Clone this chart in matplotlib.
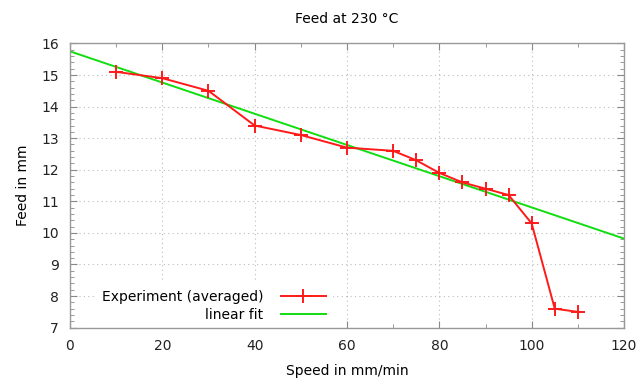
import numpy as np
import matplotlib
matplotlib.use('Agg')
import matplotlib.pyplot as plt
from matplotlib.ticker import MultipleLocator

speed = [10, 20, 30, 40, 50, 60, 70, 75, 80, 85, 90, 95, 100, 105, 110]
feed = [15.1, 14.9, 14.5, 13.4, 13.1, 12.7, 12.6, 12.3, 11.9, 11.6, 11.4, 11.2, 10.3, 7.6, 7.5]

fit_x = [0, 120]
fit_y = [15.75, 9.82]

plt.rcParams['font.family'] = 'DejaVu Sans'
plt.rcParams['font.size'] = 10

fig = plt.figure(figsize=(6.42, 3.81), dpi=100)
ax = fig.add_axes([0.109, 0.140, 0.863, 0.746])

ax.plot(speed, feed, color='#ff1a1a', linewidth=1.4, marker='+',
        markersize=10, markeredgewidth=1.4, label='Experiment (averaged)', zorder=3)
ax.plot(fit_x, fit_y, color='#11dd11', linewidth=1.4, label='linear fit', zorder=2)

ax.set_xlim(0, 120)
ax.set_ylim(7, 16)
ax.xaxis.set_major_locator(MultipleLocator(20))
ax.xaxis.set_minor_locator(MultipleLocator(10))
ax.yaxis.set_major_locator(MultipleLocator(1))
ax.yaxis.set_minor_locator(MultipleLocator(0.2))

ax.grid(True, which='major', color='#bbbbbb', linestyle=(0, (1, 3)), linewidth=0.8)
ax.tick_params(which='both', direction='in', top=True, right=True, color='#888888')
ax.tick_params(which='major', length=5, width=0.8, labelsize=10, pad=8, labelcolor='#222222')
ax.tick_params(which='minor', length=3, width=0.6)
for s in ax.spines.values():
    s.set_color('#999999')
    s.set_linewidth(1.0)

ax.set_title('Feed at 230 °C', fontsize=10, pad=15)
ax.set_xlabel('Speed in mm/min', fontsize=10, labelpad=8)
ax.set_ylabel('Feed in mm', fontsize=10, labelpad=8)

# white box behind the key hides the grid, like gnuplot
leg = ax.legend(loc='lower right', bbox_to_anchor=(0.474, -0.003), frameon=True,
                facecolor='white', edgecolor='none', framealpha=1.0, fancybox=False,
                markerfirst=False, handlelength=3.2, handletextpad=1.3, fontsize=10,
                borderaxespad=0.0, borderpad=0.5, labelspacing=0.25)
leg.set_zorder(1.5)
for t in leg.get_texts():
    t.set_ha('right')

fig.savefig('out.png', dpi=100)
